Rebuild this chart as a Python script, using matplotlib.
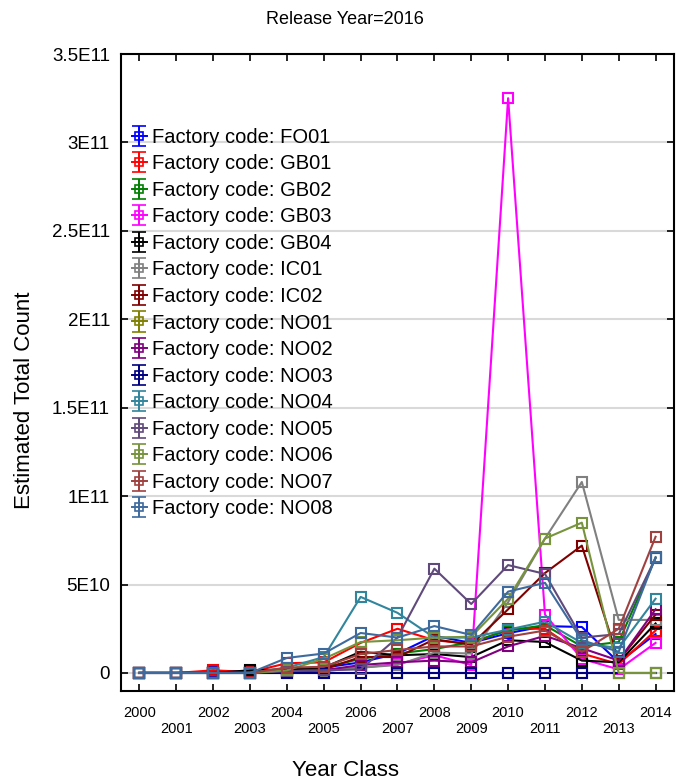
import numpy as np
import matplotlib
matplotlib.use("Agg")
import matplotlib.pyplot as plt

plt.rcParams['font.family'] = ['Liberation Sans', 'DejaVu Sans']

years = list(range(2000, 2015))
factories = ["FO01", "GB01", "GB02", "GB03", "GB04", "IC01", "IC02", "NO01",
             "NO02", "NO03", "NO04", "NO05", "NO06", "NO07", "NO08"]
colors = ["#0000FF", "#FF0000", "#008000", "#FF00FF", "#000000", "#808080",
          "#800000", "#808000", "#800080", "#000080", "#31859C", "#604A7B",
          "#77933C", "#A0413F", "#3E6A9E"]

# values in units of 1E10
FO01 = [0, 0, 0.05, 0.1, 0.2, 0.3, 0.6, 1.1, 2.1, 1.7, 2.25, 2.65, 2.6, 0.6, 2.2]
GB01 = [0, 0, 0.15, 0.05, 0.55, 0.6, 1.7, 2.5, 1.85, 1.65, 2.5, 2.5, 1.1, 0.5, 2.4]
GB02 = [0, 0, 0, 0, 0.1, 0.3, 0.8, 1.1, 1.35, 1.75, 2.4, 2.7, 1.5, 1.75, 6.5]
GB03 = [0, 0, 0, 0, 0.1, 0.2, 0.3, 0.5, 1.0, 0.45, 32.5, 3.3, 0.8, 0.2, 1.7]
GB04 = [0, 0, 0, 0.15, 0.2, 0.3, 1.2, 1.0, 1.07, 0.9, 1.85, 1.75, 0.7, 0.6, 2.8]
IC01 = [0, 0, 0, 0, 0.05, 0.1, 0.3, 0.45, 1.15, 1.1, 4.0, 7.6, 10.8, 3.0, 3.0]
IC02 = [0, 0, 0, 0, 0.1, 0.2, 0.9, 0.9, 1.9, 1.6, 3.6, 5.65, 7.2, 0.7, 3.3]
NO01 = [0, 0, 0, 0, 0, 0, 0, 0, 0, 0, 0, 0, 0, 0, 0]
NO02 = [0, 0, 0, 0, 0.05, 0.15, 0.45, 0.6, 0.7, 0.6, 1.5, 2.1, 1.4, 0.7, 3.6]
NO03 = [0, 0, 0, 0, 0, 0, 0, 0, 0, 0, 0, 0, 0, 0, 0]
NO04 = [0, 0, 0, 0, 0.3, 0.9, 4.3, 3.4, 2.0, 2.0, 2.45, 2.9, 1.7, 1.4, 4.2]
NO05 = [0, 0, 0, 0, 0.1, 0.15, 0.2, 2.0, 5.9, 3.9, 6.1, 5.6, 2.0, 2.2, 6.5]
NO06 = [0, 0, 0, 0, 0.15, 0.8, 1.75, 1.85, 2.0, 2.05, 4.2, 7.6, 8.5, 0, 0]
NO07 = [0, 0, 0, 0, 0.3, 0.35, 1.07, 1.3, 1.5, 1.5, 2.05, 2.4, 1.2, 2.5, 7.7]
NO08 = [0, 0, 0, 0, 0.85, 1.1, 2.26, 2.0, 2.65, 2.15, 4.6, 5.1, 1.85, 1.2, 6.55]
series = [FO01, GB01, GB02, GB03, GB04, IC01, IC02, NO01, NO02, NO03, NO04,
          NO05, NO06, NO07, NO08]

ytick_vals = [0, 5e10, 1e11, 1.5e11, 2e11, 2.5e11, 3e11, 3.5e11]
ytick_labels = ["0", "5E10", "1E11", "1.5E11", "2E11", "2.5E11", "3E11", "3.5E11"]

fig = plt.figure(figsize=(6.83, 7.82), dpi=100)
ax = fig.add_axes([121/683, 1-691/782, (674-121)/683, (691-54)/782])

handles = []
for name, vals, c in zip(factories, series, colors):
    y = np.array(vals) * 1e10
    ax.plot(years, y, '-', color=c, lw=1.5, marker='s', ms=7,
            mfc='none', mec=c, mew=1.5, zorder=3)
    h = ax.errorbar([np.nan], [np.nan], yerr=[1.0], fmt='-s', color=c,
                    lw=1.4, ms=5.5, mfc='none', mew=1.2, capsize=5,
                    label="Factory code: " + name)
    handles.append(h)

ax.set_xlim(1999.5, 2014.5)
ax.set_ylim(-1.02e10, 3.5e11)
ax.set_xticks(years)
ax.set_xticklabels([str(y) if y % 2 == 0 else "\n" + str(y) for y in years],
                   fontsize=10.5)
ax.set_yticks(ytick_vals)
ax.set_yticklabels(ytick_labels, fontsize=13.5)
ax.tick_params(direction='in', top=True, right=True, length=5, width=1.2,
               pad=8)
ax.tick_params(axis='x', pad=11)
ax.yaxis.grid(True, color='#D9D9D9', lw=1.5, zorder=0)
ax.set_axisbelow(True)
for s in ax.spines.values():
    s.set_linewidth(1.5)

leg = ax.legend(handles=handles, loc='upper left',
                bbox_to_anchor=(0.005, 0.897), frameon=False, fontsize=14.5,
                handlelength=0.75, handletextpad=0.25, labelspacing=0.375,
                borderaxespad=0.2, borderpad=0.2)

fig.text(345/683, 1-20/782, "Release Year=2016", ha='center', va='center',
         fontsize=13)
fig.text(25/683, 1-400/782, "Estimated Total Count", ha='center',
         va='center', rotation=90, fontsize=16)
fig.text(345/683, 1-771/782, "Year Class", ha='center', va='center',
         fontsize=16)

fig.savefig("out.png", dpi=100)
